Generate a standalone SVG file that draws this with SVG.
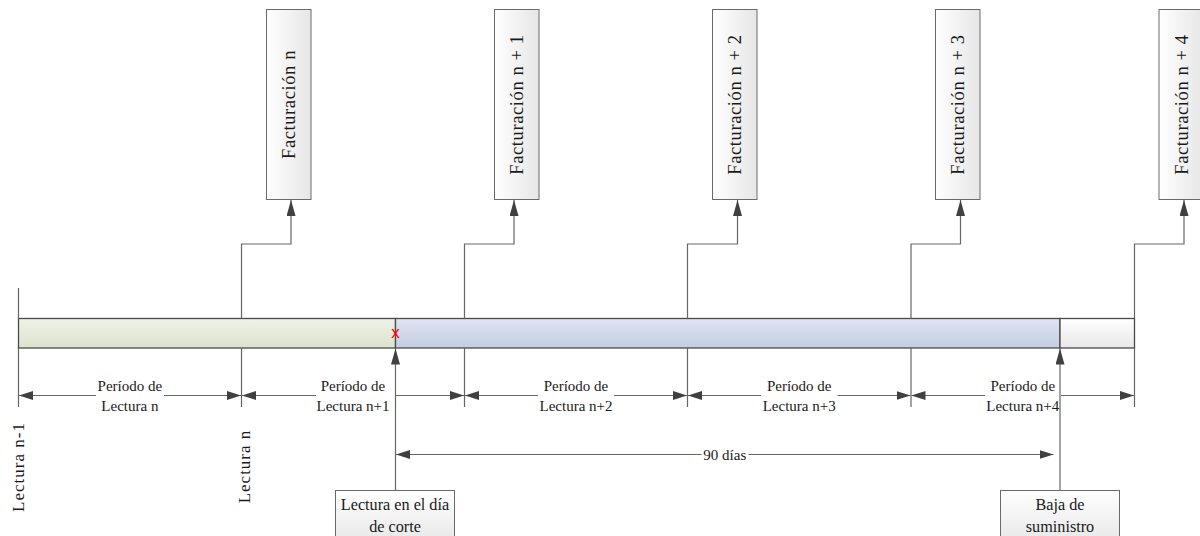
<svg xmlns="http://www.w3.org/2000/svg" width="1200" height="536" viewBox="0 0 1200 536">
<style>
.box{stroke:#6a6a6a;stroke-width:1;}
.ln{fill:none;stroke:#666666;stroke-width:1.2;}
.bar{stroke:#4a4a4a;stroke-width:1.3;}
.vt{font-family:"Liberation Serif",serif;font-size:18.5px;letter-spacing:0.6px;fill:#1a1a1a;text-anchor:middle;}
.vl{font-family:"Liberation Serif",serif;font-size:17px;letter-spacing:1px;fill:#1a1a1a;text-anchor:middle;}
.pl{font-family:"Liberation Serif",serif;font-size:15px;fill:#1a1a1a;text-anchor:middle;}
.bl{font-family:"Liberation Serif",serif;font-size:16.2px;fill:#1a1a1a;text-anchor:middle;}
</style>
<defs>
<linearGradient id="gh" x1="0" y1="0" x2="1" y2="0"><stop offset="0" stop-color="#ffffff"/><stop offset="1" stop-color="#e6e6e6"/></linearGradient>
<linearGradient id="gv" x1="0" y1="0" x2="0" y2="1"><stop offset="0" stop-color="#ffffff"/><stop offset="1" stop-color="#e4e4e4"/></linearGradient>
<linearGradient id="gg" x1="0" y1="0" x2="0" y2="1"><stop offset="0" stop-color="#eff2e7"/><stop offset="1" stop-color="#dde3cd"/></linearGradient>
<linearGradient id="gb" x1="0" y1="0" x2="0" y2="1"><stop offset="0" stop-color="#dfe4f1"/><stop offset="1" stop-color="#c3cce3"/></linearGradient>
<linearGradient id="gw" x1="0" y1="0" x2="0" y2="1"><stop offset="0" stop-color="#ffffff"/><stop offset="1" stop-color="#e8e8e8"/></linearGradient>
<marker id="ah" viewBox="0 0 16 9" markerWidth="16" markerHeight="9" refX="16" refY="4.5" orient="auto" markerUnits="userSpaceOnUse"><path d="M0,0 L16,4.5 L0,9 z" fill="#404040"/></marker>
<marker id="ap" viewBox="0 0 14 9" markerWidth="14" markerHeight="9" refX="14" refY="4.5" orient="auto" markerUnits="userSpaceOnUse"><path d="M0,0 L14,4.5 L0,9 z" fill="#404040"/></marker>
</defs>
<rect width="1200" height="536" fill="#ffffff"/>

<g id="timeline-bar">
<rect x="18.5" y="318.5" width="377" height="29.5" fill="url(#gg)" class="bar"/>
<rect x="395.5" y="318.5" width="664.5" height="29.5" fill="url(#gb)" class="bar"/>
<rect x="1060" y="318.5" width="74.5" height="29.5" fill="url(#gw)" class="bar"/>
<text x="395.5" y="337.5" font-family="Liberation Sans, sans-serif" font-size="17" fill="#ff0000" text-anchor="middle">x</text>
</g>

<g id="fact-n"><rect class="box" x="266.5" y="9.5" width="44.5" height="190" fill="url(#gh)"/><text class="vt" transform="translate(295,104.5) rotate(-90)">Facturación n</text></g>
<g id="fact-n1"><rect class="box" x="494.5" y="9.5" width="44.5" height="190" fill="url(#gh)"/><text class="vt" transform="translate(523,104.5) rotate(-90)">Facturación n + 1</text></g>
<g id="fact-n2"><rect class="box" x="712.5" y="9.5" width="44.5" height="190" fill="url(#gh)"/><text class="vt" transform="translate(741.2,104.5) rotate(-90)">Facturación n + 2</text></g>
<g id="fact-n3"><rect class="box" x="935.5" y="9.5" width="44.5" height="190" fill="url(#gh)"/><text class="vt" transform="translate(964.2,104.5) rotate(-90)">Facturación n + 3</text></g>
<g id="fact-n4"><rect class="box" x="1159" y="9.5" width="44.5" height="190" fill="url(#gh)"/><text class="vt" transform="translate(1187.7,104.5) rotate(-90)">Facturación n + 4</text></g>

<g id="lectura-n-1"><text class="vl" transform="translate(24,467) rotate(-90)">Lectura n-1</text></g>
<g id="lectura-n"><text class="vl" transform="translate(250,466.5) rotate(-90)">Lectura n</text></g>

<g id="periodo-n"><text class="pl" x="129.9" y="391">Período de</text><text class="pl" x="129.9" y="411">Lectura n</text></g>
<g id="periodo-n1"><text class="pl" x="353" y="391">Período de</text><text class="pl" x="353" y="411">Lectura n+1</text></g>
<g id="periodo-n2"><text class="pl" x="576" y="391">Período de</text><text class="pl" x="576" y="411">Lectura n+2</text></g>
<g id="periodo-n3"><text class="pl" x="799.2" y="391">Período de</text><text class="pl" x="799.2" y="411">Lectura n+3</text></g>
<g id="periodo-n4"><text class="pl" x="1022.8" y="391">Período de</text><text class="pl" x="1022.8" y="411">Lectura n+4</text></g>

<g id="dias-90"><text class="pl" x="724.8" y="459.5">90 días</text></g>

<g id="lectura-corte"><rect class="box" x="335.5" y="490.5" width="119" height="60" fill="url(#gv)"/><text class="bl" x="395" y="509.5">Lectura en el día</text><text class="bl" x="395" y="531.5">de corte</text></g>
<g id="baja-suministro"><rect class="box" x="1000.5" y="490.5" width="119" height="60" fill="url(#gv)"/><text class="bl" x="1060" y="509.5">Baja de</text><text class="bl" x="1060" y="531.5">suministro</text></g>

<g id="connectors">
<path class="ln" d="M18.5,288 V318.5 M18.5,348 V407"/>
<path class="ln" d="M241.5,348 V407 M464.5,348 V407 M687.5,348 V407 M911,348 V407 M1134.5,348 V407"/>
<path class="ln" d="M241.5,318.5 V244 H291 V200" marker-end="url(#ah)"/>
<path class="ln" d="M464.5,318.5 V244 H514 V200" marker-end="url(#ah)"/>
<path class="ln" d="M687.5,318.5 V244 H737.5 V200" marker-end="url(#ah)"/>
<path class="ln" d="M911,318.5 V244 H960.5 V200" marker-end="url(#ah)"/>
<path class="ln" d="M1134.5,318.5 V244 H1184 V200" marker-end="url(#ah)"/>
<path class="ln" d="M96,395.5 H19" marker-end="url(#ap)"/>
<path class="ln" d="M164,395.5 H241" marker-end="url(#ap)"/>
<path class="ln" d="M316,395.5 H242" marker-end="url(#ap)"/>
<path class="ln" d="M396,395.5 H464" marker-end="url(#ap)"/>
<path class="ln" d="M538,395.5 H465" marker-end="url(#ap)"/>
<path class="ln" d="M614,395.5 H687" marker-end="url(#ap)"/>
<path class="ln" d="M761,395.5 H688" marker-end="url(#ap)"/>
<path class="ln" d="M837.5,395.5 H910.5" marker-end="url(#ap)"/>
<path class="ln" d="M985,395.5 H911.5" marker-end="url(#ap)"/>
<path class="ln" d="M1061,395.5 H1134" marker-end="url(#ap)"/>
<path class="ln" d="M701.5,454.5 H396" marker-end="url(#ap)"/>
<path class="ln" d="M748.5,454.5 H1053.5" marker-end="url(#ap)"/>
<path class="ln" d="M395.5,490.5 V348.5" marker-end="url(#ah)"/>
<path class="ln" d="M1060,490.5 V348.5" marker-end="url(#ah)"/>
</g>
</svg>
